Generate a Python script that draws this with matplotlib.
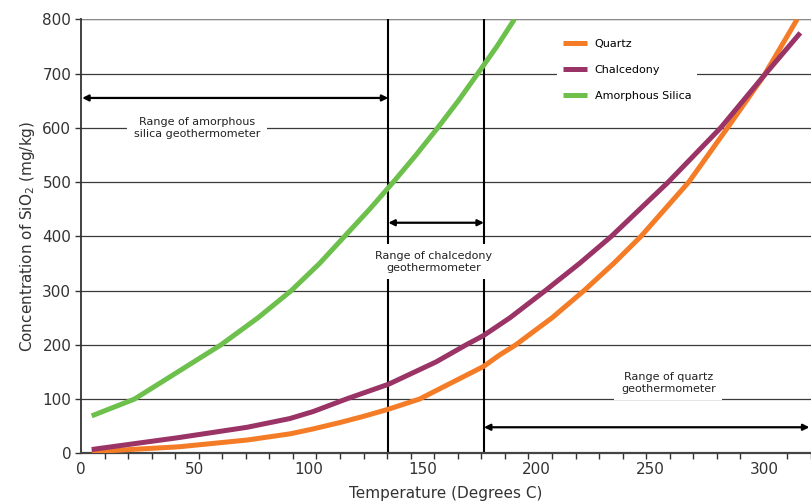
import numpy as np
import matplotlib.pyplot as plt

# values (temperature in deg C, SiO2 in mg/kg)
quartz_t = [4.7, 43, 73, 92, 102, 114, 124, 135.2, 148.7, 176.8, 183.8, 191, 207,
            221, 234, 246, 267, 284, 300, 314.6]
quartz_c = [3, 12, 24.5, 36, 45, 57, 68, 81.5, 100, 160, 181, 200, 250,
            300, 350, 400, 500, 600, 696, 800]

chalc_t = [4.7, 43, 73, 91.7, 102, 116.5, 135.2, 156, 169.2, 176.8, 188.5, 204,
           219, 233, 258, 281, 300, 316]
chalc_c = [7, 29, 48, 64, 77, 100, 127.5, 168.5, 200, 217, 250, 300,
           350, 400, 500, 600, 696, 775]

amorph_t = [4.7, 23.5, 42.5, 61.5, 77.8, 92.4, 104.8, 115.8, 126.8, 137.2, 147.2,
            156.7, 165.8, 174.3, 182.7, 190.4]
amorph_c = [69, 100, 150, 200, 250, 300, 350, 400, 450, 500, 550,
            600, 650, 700, 750, 800]

amorph_range = (0.5, 135)
chalc_range = (135, 177)
quartz_range = (177, 320)

fig = plt.figure(figsize=(8.11, 5.01), dpi=100)
ax = fig.add_axes([0.0999, 0.0952, 0.9001, 0.8663])

ax.set_xlim(0, 320)
ax.set_ylim(0, 800)

for yy in range(100, 801, 100):
    ax.axhline(yy, color='#3a3a3a', lw=0.9, zorder=1)
ax.axhline(800, color='#8a8a8a', lw=1.6, zorder=1)

line_kw = dict(lw=3.6, zorder=3, solid_joinstyle='round', solid_capstyle='butt')
ax.plot(quartz_t, quartz_c, color='#F57C27', label='Quartz', **line_kw)
ax.plot(chalc_t, chalc_c, color='#9A3366', label='Chalcedony', **line_kw)
ax.plot(amorph_t, amorph_c, color='#6DC04C', label='Amorphous Silica', **line_kw)

# boundaries between ranges
for xv in (135, 177):
    ax.axvline(xv, color='black', lw=1.5, zorder=2)

arr = dict(arrowstyle='<|-|>', color='black', lw=1.6, mutation_scale=9,
           shrinkA=0, shrinkB=0)
ax.annotate('', xy=(amorph_range[0], 655), xytext=(amorph_range[1], 655), arrowprops=arr, zorder=4)
ax.annotate('', xy=(chalc_range[0], 425), xytext=(chalc_range[1], 425), arrowprops=arr, zorder=4)
ax.annotate('', xy=(quartz_range[0], 48), xytext=(quartz_range[1], 48), arrowprops=arr,
            zorder=4, annotation_clip=False)

box = dict(boxstyle='square,pad=0.6', facecolor='white', edgecolor='none')
ax.text(51, 600, 'Range of amorphous\nsilica geothermometer', ha='center', va='center',
        fontsize=8, color='#222222', bbox=box, zorder=5, linespacing=1.25)
ax.text(155, 353, 'Range of chalcedony\ngeothermometer', ha='center', va='center',
        fontsize=8, color='#222222', bbox=box, zorder=5, linespacing=1.25)
ax.text(258, 130, 'Range of quartz\ngeothermometer', ha='center', va='center',
        fontsize=8, color='#222222', bbox=box, zorder=5, linespacing=1.25)

leg = ax.legend(loc='upper left', bbox_to_anchor=(0.652, 0.967), fontsize=8,
                frameon=True, fancybox=False, handlelength=2.2, labelspacing=1.45,
                borderpad=0.5, borderaxespad=0, handletextpad=0.7)
leg.get_frame().set_facecolor('white')
leg.get_frame().set_edgecolor('none')
leg.get_frame().set_alpha(1)
leg.set_zorder(6)

ax.set_xticks(np.arange(0, 301, 50))
ax.set_xticks(np.arange(0, 321, 300 / 29), minor=True)
ax.set_yticks(np.arange(0, 801, 100))
ax.tick_params(axis='x', which='major', length=0, labelsize=11, labelcolor='#333333', pad=6)
ax.tick_params(axis='x', which='minor', length=4, width=1, color='#333333', direction='out')
ax.tick_params(axis='y', length=4, width=1, color='#333333', labelsize=11,
               labelcolor='#333333', pad=3)

for s in ('top', 'right'):
    ax.spines[s].set_visible(False)
ax.spines['left'].set_color('#333333')
ax.spines['left'].set_linewidth(1.3)
ax.spines['bottom'].set_color('#444444')
ax.spines['bottom'].set_linewidth(1.6)

ax.set_xlabel('Temperature (Degrees C)', fontsize=11, color='#333333', labelpad=7)
ax.set_ylabel('Concentration of SiO$_2$ (mg/kg)', fontsize=11, color='#333333', labelpad=4)

fig.savefig('out.png', dpi=100)
